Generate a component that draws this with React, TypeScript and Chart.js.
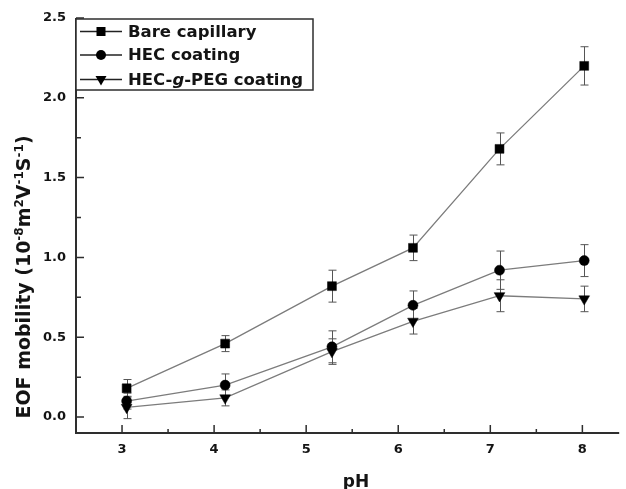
import React, { useEffect, useRef } from 'react';
import { Chart, registerables } from 'chart.js';

Chart.register(...registerables);

// ---- data ----
const phValues = [3.05, 4.12, 5.28, 6.16, 7.1, 8.02];
const bareMobility = [0.18, 0.46, 0.82, 1.06, 1.68, 2.2];
const bareError = [0.055, 0.05, 0.1, 0.08, 0.1, 0.12];
const hecMobility = [0.1, 0.2, 0.44, 0.7, 0.92, 0.98];
const hecError = [0.05, 0.07, 0.1, 0.09, 0.12, 0.1];
const pegMobility = [0.06, 0.12, 0.41, 0.6, 0.76, 0.74];
const pegError = [0.07, 0.05, 0.08, 0.08, 0.1, 0.08];
const seriesLabels = ['Bare capillary', 'HEC coating', 'HEC-g-PEG coating'];
const xTickValues = [3, 4, 5, 6, 7, 8];
const xMinorTickValues = [3.5, 4.5, 5.5, 6.5, 7.5];
const yTickValues = [0, 0.5, 1, 1.5, 2, 2.5];
const yMinorTickValues = [0.25, 0.75, 1.25, 1.75, 2.25];
const xAxisTitle = 'pH';
const yAxisTitleParts = [
  { t: 'EOF mobility (10', sup: false },
  { t: '-8', sup: true },
  { t: 'm', sup: false },
  { t: '2', sup: true },
  { t: 'V', sup: false },
  { t: '-1', sup: true },
  { t: 'S', sup: false },
  { t: '-1', sup: true },
  { t: ')', sup: false },
];

const FONT = '"DejaVu Sans", "Liberation Sans", sans-serif';
const TEXT = '#141414';
const AXIS = '#2e2e2e';
const LINE = '#7c7c7c';
const ERR = '#555555';

const errorSets = [bareError, hecError, pegError];

const errorBarsPlugin = {
  id: 'errorBars',
  beforeDatasetsDraw(chart: any) {
    const ctx = chart.ctx;
    const xs = chart.scales.x;
    const ys = chart.scales.y;
    ctx.save();
    ctx.strokeStyle = ERR;
    ctx.lineWidth = 1;
    chart.data.datasets.forEach((ds: any, i: number) => {
      const errs = errorSets[i];
      ds.data.forEach((p: any, j: number) => {
        const x = Math.round(xs.getPixelForValue(p.x)) + 0.5;
        const yt = ys.getPixelForValue(p.y + errs[j]);
        const yb = ys.getPixelForValue(p.y - errs[j]);
        ctx.beginPath();
        ctx.moveTo(x, yt);
        ctx.lineTo(x, yb);
        ctx.moveTo(x - 4, yt);
        ctx.lineTo(x + 4, yt);
        ctx.moveTo(x - 4, yb);
        ctx.lineTo(x + 4, yb);
        ctx.stroke();
      });
    });
    ctx.restore();
  },
};

const axesPlugin = {
  id: 'axesDraw',
  afterDatasetsDraw(chart: any) {
    const ctx = chart.ctx;
    const { left, right, top, bottom } = chart.chartArea;
    const xs = chart.scales.x;
    const ys = chart.scales.y;
    ctx.save();
    ctx.strokeStyle = AXIS;
    ctx.lineWidth = 2;
    ctx.beginPath();
    ctx.moveTo(left, top);
    ctx.lineTo(left, bottom);
    ctx.lineTo(right, bottom);
    ctx.stroke();
    ctx.lineWidth = 1.5;
    ctx.beginPath();
    xTickValues.forEach((v) => {
      const x = xs.getPixelForValue(v);
      ctx.moveTo(x, bottom);
      ctx.lineTo(x, bottom - 8);
    });
    xMinorTickValues.forEach((v) => {
      const x = xs.getPixelForValue(v);
      ctx.moveTo(x, bottom);
      ctx.lineTo(x, bottom - 4);
    });
    yTickValues.forEach((v) => {
      const y = ys.getPixelForValue(v);
      ctx.moveTo(left, y);
      ctx.lineTo(left + 8, y);
    });
    yMinorTickValues.forEach((v) => {
      const y = ys.getPixelForValue(v);
      ctx.moveTo(left, y);
      ctx.lineTo(left + 5, y);
    });
    ctx.stroke();
    ctx.restore();
  },
};

const titlesPlugin = {
  id: 'titlesDraw',
  afterDraw(chart: any) {
    const ctx = chart.ctx;
    ctx.save();
    ctx.fillStyle = TEXT;
    // x title
    ctx.font = `bold 17px ${FONT}`;
    ctx.textAlign = 'center';
    ctx.textBaseline = 'alphabetic';
    ctx.fillText(xAxisTitle, 356, 487);
    // y title (rotated, with superscripts)
    const mainFont = `bold 19px ${FONT}`;
    const supFont = `bold 12px ${FONT}`;
    let total = 0;
    yAxisTitleParts.forEach((p) => {
      ctx.font = p.sup ? supFont : mainFont;
      total += ctx.measureText(p.t).width;
    });
    ctx.translate(23, 277);
    ctx.rotate(-Math.PI / 2);
    ctx.textAlign = 'left';
    let cx = -total / 2;
    yAxisTitleParts.forEach((p) => {
      ctx.font = p.sup ? supFont : mainFont;
      ctx.fillText(p.t, cx, p.sup ? 0 : 7);
      cx += ctx.measureText(p.t).width;
    });
    ctx.restore();
  },
};

const legendPlugin = {
  id: 'customLegend',
  afterDraw(chart: any) {
    const ctx = chart.ctx;
    const bx = 76;
    const by = 19;
    const bw = 237;
    const bh = 71;
    ctx.save();
    ctx.fillStyle = '#ffffff';
    ctx.fillRect(bx, by, bw, bh);
    ctx.strokeStyle = AXIS;
    ctx.lineWidth = 1.5;
    ctx.strokeRect(bx, by, bw, bh);
    const rows = [31.5, 55, 79.5];
    chart.data.datasets.forEach((ds: any, i: number) => {
      const y = rows[i];
      ctx.strokeStyle = '#222';
      ctx.lineWidth = 1.3;
      ctx.beginPath();
      ctx.moveTo(80, y);
      ctx.lineTo(122, y);
      ctx.stroke();
      ctx.fillStyle = '#000';
      const mx = 101;
      if (i === 0) {
        ctx.fillRect(mx - 4.5, y - 4.5, 9, 9);
      } else if (i === 1) {
        ctx.beginPath();
        ctx.arc(mx, y, 5, 0, Math.PI * 2);
        ctx.fill();
      } else {
        ctx.beginPath();
        ctx.moveTo(mx - 5.5, y - 3.5);
        ctx.lineTo(mx + 5.5, y - 3.5);
        ctx.lineTo(mx, y + 6);
        ctx.closePath();
        ctx.fill();
      }
      ctx.fillStyle = TEXT;
      ctx.textBaseline = 'middle';
      ctx.textAlign = 'left';
      const label: string = ds.label;
      const boldFont = `bold 16.5px ${FONT}`;
      const italicFont = `italic bold 16.5px ${FONT}`;
      const idx = label.indexOf('-g-');
      if (idx >= 0) {
        const parts = [
          { t: label.slice(0, idx + 1), f: boldFont },
          { t: 'g', f: italicFont },
          { t: label.slice(idx + 2), f: boldFont },
        ];
        let tx = 128;
        parts.forEach((p) => {
          ctx.font = p.f;
          ctx.fillText(p.t, tx, y + 1);
          tx += ctx.measureText(p.t).width;
        });
      } else {
        ctx.font = boldFont;
        ctx.fillText(label, 128, y + 1);
      }
    });
    ctx.restore();
  },
};

export default function App() {
  const ref = useRef<HTMLCanvasElement | null>(null);

  useEffect(() => {
    document.body.style.margin = '0';
    const canvas = ref.current;
    if (!canvas) return;
    const seriesValues = [bareMobility, hecMobility, pegMobility];
    const styles = [
      { pointStyle: 'rect', pointRadius: 6.3, pointRotation: 0 },
      { pointStyle: 'circle', pointRadius: 5, pointRotation: 0 },
      { pointStyle: 'triangle', pointRadius: 6.2, pointRotation: 180 },
    ];
    const chart = new Chart(canvas, {
      type: 'line',
      data: {
        datasets: seriesValues.map((vals, i) => ({
          label: seriesLabels[i],
          data: phValues.map((x, j) => ({ x, y: vals[j] })),
          borderColor: LINE,
          borderWidth: 1.3,
          backgroundColor: '#000',
          pointBackgroundColor: '#000',
          pointBorderColor: '#000',
          pointBorderWidth: 0.5,
          tension: 0,
          fill: false,
          ...styles[i],
        })) as any,
      },
      options: {
        responsive: false,
        animation: false,
        events: [],
        layout: { padding: { top: 18, right: 0, left: 0, bottom: 0 } },
        plugins: {
          legend: { display: false },
          tooltip: { enabled: false },
        },
        scales: {
          x: {
            type: 'linear',
            min: 2.5,
            max: 8.4,
            grid: { display: false, drawTicks: false },
            border: { display: false },
            ticks: {
              font: { family: FONT, size: 13, weight: 'bold' },
              color: TEXT,
              padding: 9,
              callback: (v: any) => String(v),
            },
            afterBuildTicks: (s: any) => {
              s.ticks = xTickValues.map((v) => ({ value: v }));
            },
            afterFit: (s: any) => {
              s.height = 56;
            },
          },
          y: {
            type: 'linear',
            min: -0.1,
            max: 2.5,
            grid: { display: false, drawTicks: false },
            border: { display: false },
            ticks: {
              font: { family: FONT, size: 13, weight: 'bold' },
              color: TEXT,
              padding: 10,
              callback: (v: any) => Number(v).toFixed(1),
            },
            afterBuildTicks: (s: any) => {
              s.ticks = yTickValues.map((v) => ({ value: v }));
            },
            afterFit: (s: any) => {
              s.width = 76;
            },
          },
        },
      } as any,
      plugins: [errorBarsPlugin, axesPlugin, titlesPlugin, legendPlugin],
    });
    return () => chart.destroy();
  }, []);

  return (
    <div style={{ position: 'fixed', left: 0, top: 0, width: 626, height: 489, background: '#fff' }}>
      <canvas ref={ref} width={626} height={489} style={{ width: 626, height: 489, display: 'block' }} />
    </div>
  );
}
